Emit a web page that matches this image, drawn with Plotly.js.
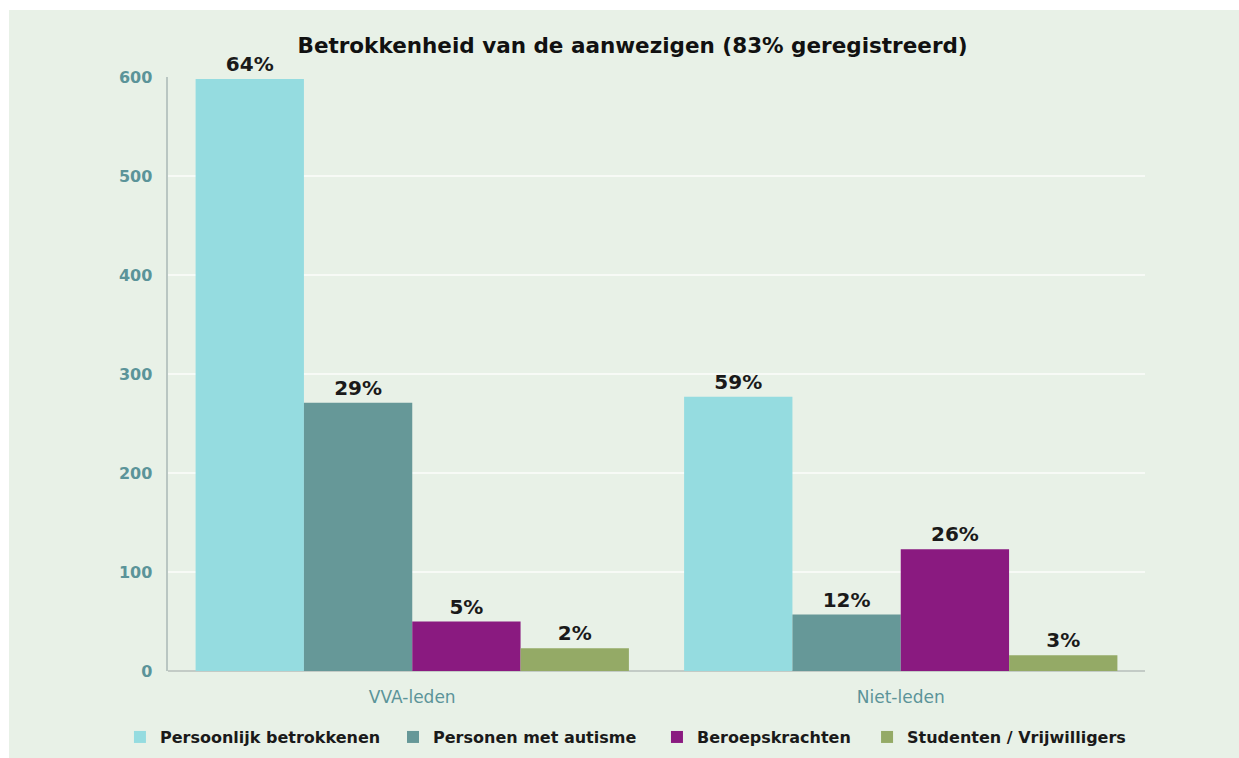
<!DOCTYPE html>
<html>
<head>
<meta charset="utf-8">
<script src="https://cdn.plot.ly/plotly-3.0.1.min.js"></script>
<style>
html,body{margin:0;padding:0;background:#ffffff;}
#chart{position:absolute;left:9px;top:10px;width:1230px;height:748px;}
</style>
</head>
<body>
<div id="chart"></div>
<script>
var categories = ["VVA-leden", "Niet-leden"];
var seriesNames = ["Persoonlijk betrokkenen", "Personen met autisme", "Beroepskrachten", "Studenten / Vrijwilligers"];
var persoonlijk = [598, 277];
var autisme = [271, 57];
var beroeps = [50, 123];
var studenten = [23, 16];
var pctPersoonlijk = ["64%", "59%"];
var pctAutisme = ["29%", "12%"];
var pctBeroeps = ["5%", "26%"];
var pctStudenten = ["2%", "3%"];
var colors = ["#95dce0", "#669898", "#8a1a80", "#94aa66"];

var values = [persoonlijk, autisme, beroeps, studenten];
var pcts = [pctPersoonlijk, pctAutisme, pctBeroeps, pctStudenten];
var fontFam = "'DejaVu Sans', sans-serif";
var legendIds = ["legend", "legend2", "legend3", "legend4"];
var legendX = [0.0902, 0.3122, 0.5268, 0.6976];

var data = values.map(function(v, i){
  return {
    type: "bar",
    name: seriesNames[i],
    legend: legendIds[i],
    x: categories,
    y: v,
    text: pcts[i],
    textposition: "outside",
    textfont: {family: fontFam, size: 20, color: "#1a1a1a", weight: "bold"},
    cliponaxis: false,
    marker: {color: colors[i]},
    hoverinfo: "y+name"
  };
});

var layout = {
  width: 1230,
  height: 748,
  paper_bgcolor: "#e8f1e7",
  plot_bgcolor: "#e8f1e7",
  margin: {l: 159, r: 94, t: 67, b: 87},
  barmode: "group",
  bargap: 0.113,
  bargroupgap: 0,
  title: {
    text: "Betrokkenheid van de aanwezigen (83% geregistreerd)",
    font: {family: fontFam, size: 21.5, color: "#111111", weight: "bold"},
    x: 0.507, xanchor: "center",
    y: 0.953, yanchor: "middle"
  },
  xaxis: {
    showgrid: false,
    showline: false,
    ticks: "",
    ticklabelstandoff: 14,
    tickfont: {family: fontFam, size: 17, color: "#5b9499"},
    fixedrange: true
  },
  yaxis: {
    range: [0, 600],
    tickvals: [0, 100, 200, 300, 400, 500, 600],
    showgrid: true,
    gridcolor: "#f7faf6",
    gridwidth: 2.5,
    zeroline: true,
    zerolinecolor: "#c3cbc6",
    zerolinewidth: 2.5,
    showline: true,
    linecolor: "#b9c6c2",
    linewidth: 2.5,
    ticks: "",
    ticklen: 0,
    ticklabelstandoff: 10,
    tickfont: {family: fontFam, size: 16, color: "#5b9499", weight: "bold"},
    fixedrange: true
  },
  showlegend: true,
  font: {family: fontFam}
};

legendIds.forEach(function(id, i){
  layout[id] = {
    orientation: "h",
    xref: "container", yref: "container",
    x: legendX[i], xanchor: "left",
    y: 0.028, yanchor: "middle",
    font: {family: fontFam, size: 16, color: "#1a1a1a", weight: "bold"},
    bgcolor: "rgba(0,0,0,0)",
    itemwidth: 30
  };
});

Plotly.newPlot("chart", data, layout, {displayModeBar: false, staticPlot: true});
</script>
</body>
</html>
